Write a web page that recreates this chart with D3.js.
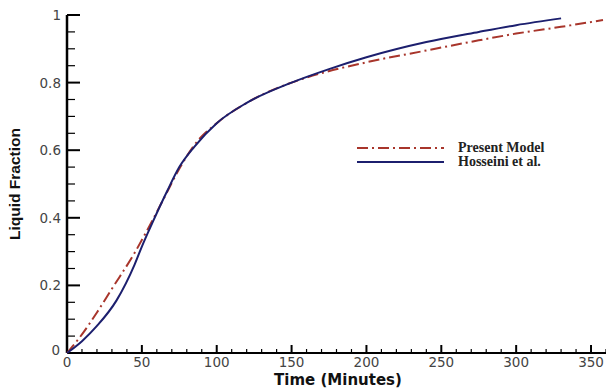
<!DOCTYPE html>
<html>
<head>
<meta charset="utf-8">
<script src="https://cdn.jsdelivr.net/npm/d3@7"></script>
<style>
  body { margin: 0; background: #fff; }
</style>
</head>
<body>
<div id="chart"></div>
<script>
// data
const hosseiniTime = [0, 10, 20, 33, 45, 50, 57, 67, 75, 85, 100, 120, 150, 175, 200, 240, 275, 300, 330];
const hosseiniFrac = [0, 0.035, 0.08, 0.155, 0.26, 0.315, 0.385, 0.48, 0.55, 0.61, 0.68, 0.74, 0.80, 0.84, 0.875, 0.92, 0.95, 0.97, 0.99];
const presentTime = [0, 10, 20, 30, 45, 55, 65, 75, 85, 100, 120, 150, 160, 200, 240, 275, 300, 330, 358];
const presentFrac = [0, 0.055, 0.12, 0.19, 0.295, 0.375, 0.46, 0.545, 0.615, 0.68, 0.74, 0.80, 0.815, 0.86, 0.895, 0.925, 0.945, 0.965, 0.985];
const xTicks = [0, 50, 100, 150, 200, 250, 300, 350];
const yTicks = [0, 0.2, 0.4, 0.6, 0.8, 1];
const legendNames = ["Present Model", "Hosseini et al."];

const w = 606, h = 390;
const redColor = "#a8352b";
const blueColor = "#1c1f6e";

const svg = d3.select("#chart").append("svg")
    .attr("width", w)
    .attr("height", h);

const x = d3.scaleLinear().domain([0, 360]).range([67, 606]);
const y = d3.scaleLinear().domain([0, 1]).range([353, 15]);

// minor ticks
svg.selectAll(".xminor")
    .data(d3.range(0, 361, 10).filter(d => d % 50 !== 0))
    .enter().append("line")
    .attr("x1", d => x(d)).attr("x2", d => x(d))
    .attr("y1", y(0)).attr("y2", y(0) - 4)
    .attr("stroke", "#000").attr("stroke-width", 1.2);

svg.selectAll(".yminor")
    .data(d3.range(0, 1.001, 0.05).filter((d, i) => i % 4 !== 0))
    .enter().append("line")
    .attr("x1", x(0)).attr("x2", x(0) + 8)
    .attr("y1", d => y(d)).attr("y2", d => y(d))
    .attr("stroke", "#000").attr("stroke-width", 1.2);

// major ticks
svg.selectAll(".xmajor")
    .data(xTicks)
    .enter().append("line")
    .attr("x1", d => x(d)).attr("x2", d => x(d))
    .attr("y1", y(0)).attr("y2", y(0) - 8)
    .attr("stroke", "#000").attr("stroke-width", 2);

svg.selectAll(".ymajor")
    .data(yTicks)
    .enter().append("line")
    .attr("x1", x(0)).attr("x2", x(0) + 13)
    .attr("y1", d => y(d)).attr("y2", d => y(d))
    .attr("stroke", "#000").attr("stroke-width", 2);

// axis lines
svg.append("line")
    .attr("x1", x(0)).attr("x2", x(360))
    .attr("y1", y(0)).attr("y2", y(0))
    .attr("stroke", "#000").attr("stroke-width", 2);
svg.append("line")
    .attr("x1", x(0)).attr("x2", x(0))
    .attr("y1", y(0)).attr("y2", y(1))
    .attr("stroke", "#000").attr("stroke-width", 2.5);

// tick labels
svg.selectAll(".xlab")
    .data(xTicks)
    .enter().append("text")
    .attr("x", d => x(d))
    .attr("y", 367)
    .attr("text-anchor", "middle")
    .attr("font-family", "DejaVu Sans")
    .attr("font-size", 13.5)
    .attr("fill", "#444")
    .text(d => d);

svg.selectAll(".ylab")
    .data(yTicks)
    .enter().append("text")
    .attr("x", d => d === 0 ? 60 : 61)
    .attr("y", d => y(d) + (d === 0 ? 2 : 5))
    .attr("text-anchor", "end")
    .attr("font-family", "DejaVu Sans")
    .attr("font-size", 13.5)
    .attr("fill", "#444")
    .text(d => d);

// axis titles
svg.append("text")
    .attr("x", 338)
    .attr("y", 385)
    .attr("text-anchor", "middle")
    .attr("font-family", "DejaVu Sans")
    .attr("font-weight", "bold")
    .attr("font-size", 15)
    .attr("fill", "#111")
    .text("Time (Minutes)");

svg.append("text")
    .attr("transform", "translate(20,184) rotate(-90)")
    .attr("text-anchor", "middle")
    .attr("font-family", "Liberation Sans")
    .attr("font-weight", "bold")
    .attr("font-size", 15.5)
    .attr("fill", "#111")
    .text("Liquid Fraction");

// curves
const line = d3.line()
    .x(d => x(d[0]))
    .y(d => y(d[1]))
    .curve(d3.curveMonotoneX);

svg.append("path")
    .datum(presentTime.map((t, i) => [t, presentFrac[i]]))
    .attr("d", line)
    .attr("fill", "none")
    .attr("stroke", redColor)
    .attr("stroke-width", 2)
    .attr("stroke-dasharray", "11,4,2,4");

svg.append("path")
    .datum(hosseiniTime.map((t, i) => [t, hosseiniFrac[i]]))
    .attr("d", line)
    .attr("fill", "none")
    .attr("stroke", blueColor)
    .attr("stroke-width", 2);

// legend
const legend = svg.selectAll(".legend")
    .data(legendNames)
    .enter().append("g")
    .attr("transform", (d, i) => "translate(357," + (148 + i * 14) + ")");

legend.append("line")
    .attr("x1", 0).attr("x2", 87)
    .attr("y1", 0).attr("y2", 0)
    .attr("stroke", (d, i) => i === 0 ? redColor : blueColor)
    .attr("stroke-width", 2)
    .attr("stroke-dasharray", (d, i) => i === 0 ? "11,4,2,4" : null);

legend.append("text")
    .attr("x", 101)
    .attr("y", 4)
    .attr("font-family", "Liberation Serif")
    .attr("font-weight", "bold")
    .attr("font-size", 14)
    .attr("fill", "#222")
    .text(d => d);
</script>
</body>
</html>
